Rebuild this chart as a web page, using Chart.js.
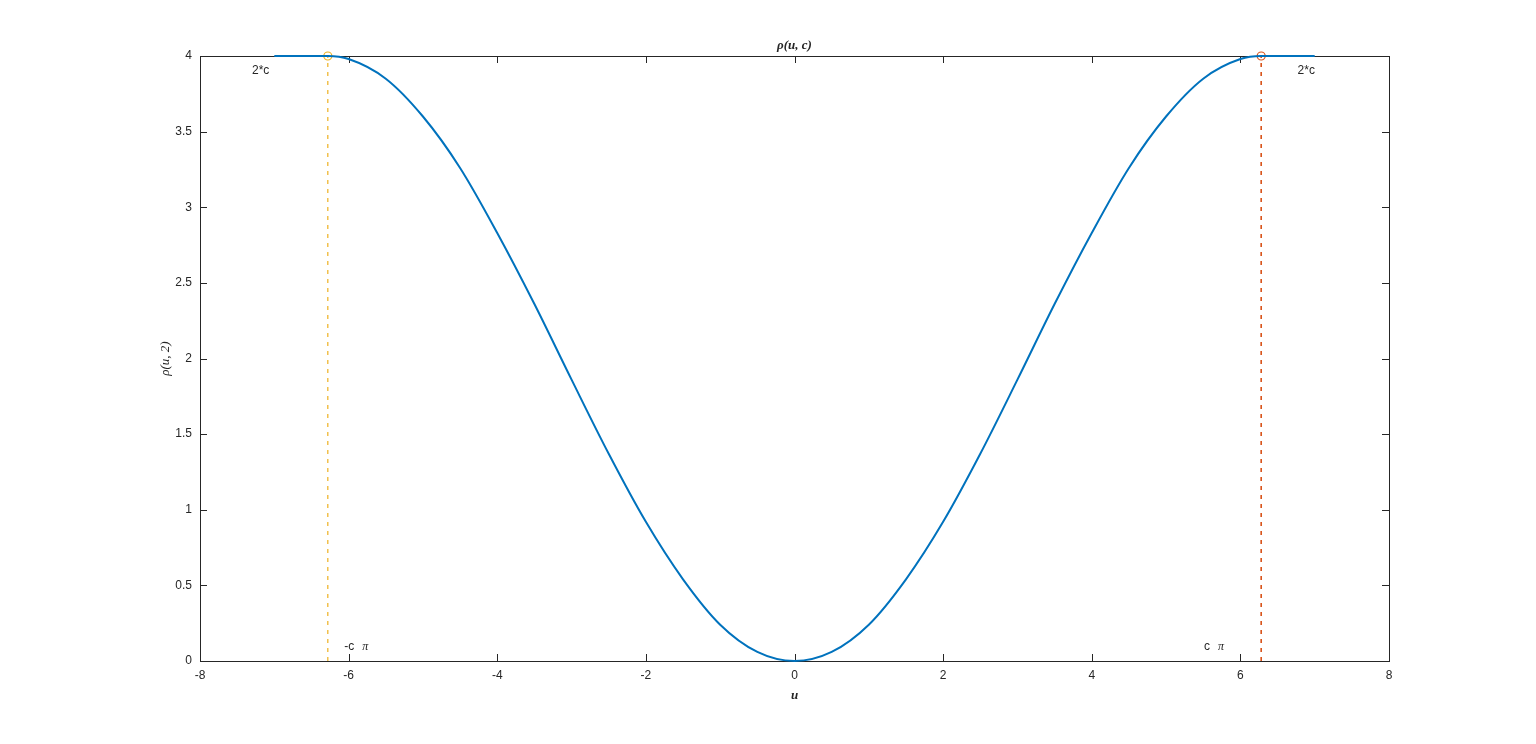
<!DOCTYPE html>
<html>
<head>
<meta charset="utf-8">
<script src="https://cdn.jsdelivr.net/npm/chart.js@4/dist/chart.umd.min.js"></script>
<style>
	html, body { margin: 0; padding: 0; background: #fff; }
	#wrap { width: 1536px; height: 744px; }
</style>
</head>
<body>
<div id="wrap"><canvas id="rho"></canvas></div>
<script>
// values, c = 2
const uVals = [-7, -6.5, -6.28, -6, -5.5, -5, -4.5, -4, -3.5, -3, -2.5, -2, -1.5, -1, -0.5, 0,
	0.5, 1, 1.5, 2, 2.5, 3, 3.5, 4, 4.5, 5, 5.5, 6, 6.28, 6.5, 7];
const rhoVals = [4, 4, 4, 3.98, 3.85, 3.60, 3.26, 2.83, 2.36, 1.86, 1.37, 0.92, 0.54, 0.24, 0.06, 0,
	0.06, 0.24, 0.54, 0.92, 1.37, 1.86, 2.36, 2.83, 3.26, 3.60, 3.85, 3.98, 4, 4, 4];
const cPi = 6.28;
const topVal = 4;
const xTicks = [-8, -6, -4, -2, 0, 2, 4, 6, 8];
const yTicks = [0, 0.5, 1, 1.5, 2, 2.5, 3, 3.5, 4];
// annotation texts and where they sit (data coords)
const notes = [
	{ text: '2*c', x: -7.3, y: 3.9 },
	{ text: '2*c', x: 6.77, y: 3.9 },
	{ text: '-c', x: -6.06, y: 0.095, pi: true },
	{ text: 'c', x: 5.51, y: 0.095, pi: true },
];

function pts(xs, ys) {
	return xs.map((x, i) => ({ x: x, y: ys[i] }));
}

const ink = '#262626';

// axes box with inward ticks, under the data like matlab
const boxPlugin = {
	id: 'matlabBox',
	beforeDatasetsDraw(chart) {
		const ctx = chart.ctx;
		const a = chart.chartArea;
		const xs = chart.scales.x, ys = chart.scales.y;
		ctx.save();
		ctx.strokeStyle = ink;
		ctx.lineWidth = 1;
		ctx.strokeRect(Math.round(a.left) + 0.5, Math.round(a.top) + 0.5, Math.round(a.right - a.left), Math.round(a.bottom - a.top));
		ctx.beginPath();
		xTicks.forEach(v => {
			let px = Math.round(xs.getPixelForValue(v)) + 0.5;
			ctx.moveTo(px, a.bottom); ctx.lineTo(px, a.bottom - 7);
			ctx.moveTo(px, a.top); ctx.lineTo(px, a.top + 7);
		});
		yTicks.forEach(v => {
			let py = Math.round(ys.getPixelForValue(v)) + 0.5;
			ctx.moveTo(a.left, py); ctx.lineTo(a.left + 7, py);
			ctx.moveTo(a.right, py); ctx.lineTo(a.right - 7, py);
		});
		ctx.stroke();
		ctx.restore();
	},
	afterDraw(chart) {
		const ctx = chart.ctx;
		const a = chart.chartArea;
		const xs = chart.scales.x, ys = chart.scales.y;
		ctx.save();
		ctx.fillStyle = ink;
		ctx.textBaseline = 'middle';
		ctx.textAlign = 'left';
		notes.forEach(n => {
			let px = xs.getPixelForValue(n.x), py = ys.getPixelForValue(n.y);
			ctx.font = '12px "Liberation Sans", Arial, sans-serif';
			ctx.fillText(n.text, px, py);
			if (n.pi) {
				let w = ctx.measureText(n.text).width;
				ctx.font = 'italic 12px "Liberation Serif", "Times New Roman", serif';
				ctx.fillText('\u03c0', px + w + 8, py);
			}
		});

		// title and axis labels
		ctx.font = 'italic bold 13px "Liberation Serif", "Times New Roman", serif';
		ctx.textAlign = 'center';
		ctx.textBaseline = 'alphabetic';
		ctx.fillText('\u03c1(u, c)', (a.left + a.right) / 2, a.top - 7);
		ctx.fillText('u', (a.left + a.right) / 2, a.bottom + 38);
		ctx.font = 'italic 13px "Liberation Serif", "Times New Roman", serif';
		ctx.translate(a.left - 31, (a.top + a.bottom) / 2);
		ctx.rotate(-Math.PI / 2);
		ctx.fillText('\u03c1(u, 2)', 0, 0);
		ctx.restore();
	}
};

function rhoChart(id) {
	let chartID = document.getElementById(id);
	new Chart(chartID, {
		type: 'scatter',
		data: {
			datasets: [
			{
				data: pts(uVals, rhoVals),
				showLine: true,
				borderColor: '#0072BD',
				borderWidth: 2,
				pointRadius: 0,
				cubicInterpolationMode: 'monotone',
				clip: false,
			},
			{
				data: pts([-cPi, -cPi], [0, topVal]),
				showLine: true,
				borderColor: '#EDB120',
				borderWidth: 1.2,
				borderDash: [4, 5],
				pointRadius: 0,
			},
			{
				data: pts([cPi, cPi], [0, topVal]),
				showLine: true,
				borderColor: '#D95319',
				borderWidth: 1.6,
				borderDash: [4, 5],
				pointRadius: 0,
			},
			{
				data: pts([-cPi], [topVal]),
				pointRadius: 4,
				pointBorderWidth: 1.2,
				pointBorderColor: '#EDB120',
				pointBackgroundColor: 'rgba(0,0,0,0)',
				clip: false,
			},
			{
				data: pts([cPi], [topVal]),
				pointRadius: 4,
				pointBorderWidth: 1.2,
				pointBorderColor: '#D95319',
				pointBackgroundColor: 'rgba(0,0,0,0)',
				clip: false,
			},
		]
		},
		options: {
			responsive: true,
			maintainAspectRatio: false,
			animation: false,
			layout: { padding: { top: 56, right: 147, bottom: 0, left: 0 } },
			plugins: {
				legend: { display: false },
				tooltip: { enabled: false },
			},
			scales: {
				x: {
					type: 'linear',
					min: -8,
					max: 8,
					border: { display: false },
					grid: { display: false, drawTicks: false },
					afterFit: s => { s.height = 83; },
					afterBuildTicks: s => { s.ticks = xTicks.map(v => ({ value: v })); },
					ticks: {
						padding: 7,
						color: ink,
						font: { family: '"Liberation Sans", Arial, sans-serif', size: 12 },
						callback: v => String(v),
					},
				},
				y: {
					type: 'linear',
					min: 0,
					max: 4,
					border: { display: false },
					grid: { display: false, drawTicks: false },
					afterFit: s => { s.width = 200; },
					afterBuildTicks: s => { s.ticks = yTicks.map(v => ({ value: v })); },
					ticks: {
						padding: 8,
						color: ink,
						font: { family: '"Liberation Sans", Arial, sans-serif', size: 12 },
						callback: v => String(v),
					},
				}
			}
		},
		plugins: [boxPlugin]
	});
}

rhoChart('rho');
</script>
</body>
</html>
